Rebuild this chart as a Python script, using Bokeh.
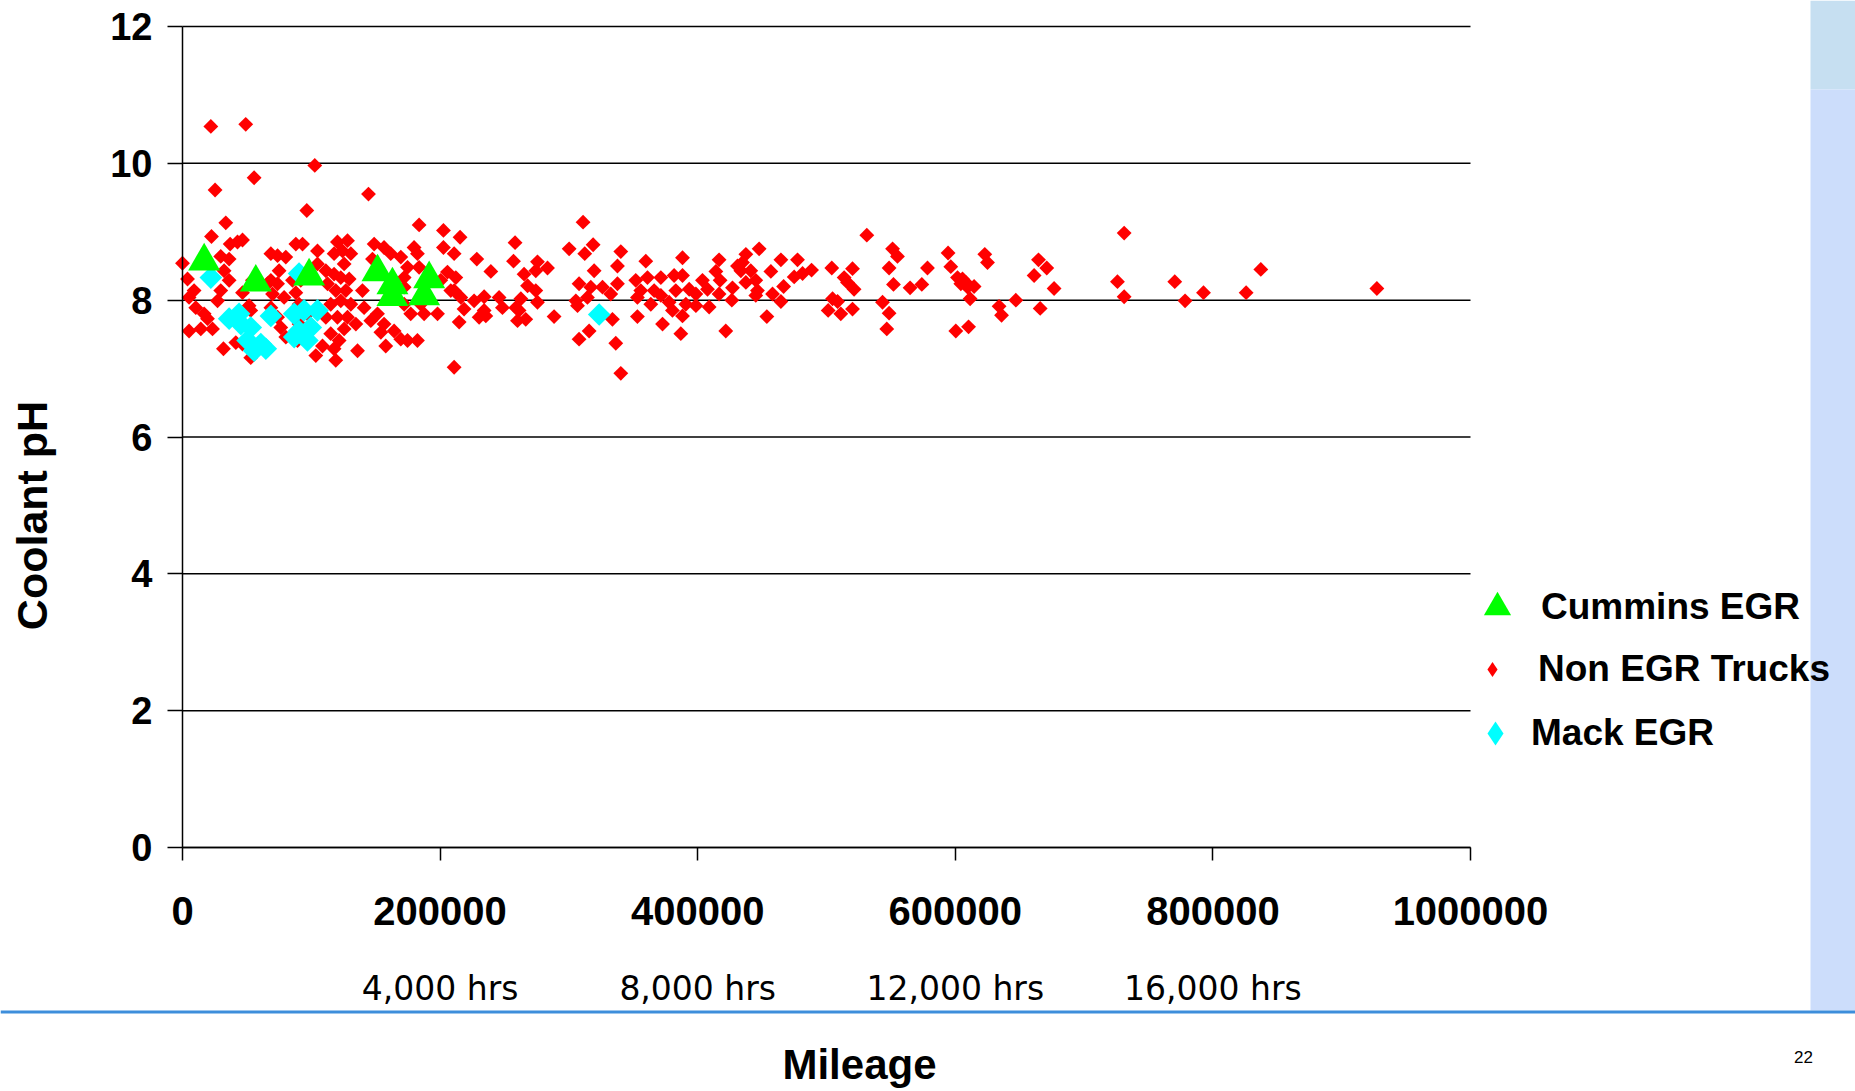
from bokeh.plotting import figure
from bokeh.models import (ColumnDataSource, LinearAxis, FixedTicker, Legend, LegendItem,
                          BoxAnnotation, Label, Range1d, NumeralTickFormatter)
from bokeh.embed import file_html
from bokeh.resources import INLINE

# ---- Coolant pH vs. mileage -------------------------------------------------
# Non EGR trucks (red diamonds)
non_egr_miles = [
    22000, 49100, 102700, 55600, 25300, 96500, 144400, 33600, 183700, 22500,
    37000, 42700, 46600, 0, 3900, 9000, 5100, 10300, 16800, 19400,
    5100, 14200, 23300, 31800, 41400, 29700, 36200, 32300, 36200, 29700,
    27200, 46600, 51700, 54300, 68600, 73800, 80200, 88000, 93200, 68600,
    75000, 66000, 73800, 69900, 78900, 68600, 73800, 76300, 80200, 46600,
    53000, 53000, 85400, 91800, 88000, 90500, 89300, 103500, 119000, 108700,
    117700, 104800, 104800, 111300, 120300, 128100, 124200, 117700, 130700, 125500,
    117700, 122900, 129400, 112600, 119000, 126800, 122900, 130700, 115100, 111300,
    120300, 128100, 134600, 125500, 115100, 135900, 121600, 148800, 156500, 147500,
    161700, 169500, 179800, 182400, 174700, 183700, 172100, 139700, 141000, 146200,
    151400, 156500, 154000, 164300, 157800, 169500, 174700, 182400, 177200, 187600,
    185000, 172100, 172100, 90500, 97000,
    202600, 215500, 202600, 210900, 228500, 239400, 258200, 257000, 275600, 283400,
    274300, 265200, 267900, 274300, 275600, 262700, 258800, 260100, 266500, 245800,
    248400, 234200, 226400, 230300, 235500, 218600, 214800, 210900, 216100, 205700,
    212200, 210900, 288500, 300200, 311000, 312300, 318800, 307900, 319600, 317000,
    314400, 305400, 306700, 326100, 332500, 337700, 337700, 340300, 333800, 315700,
    307900, 336400, 340300, 351900, 355800, 353200, 359700, 361000, 366200, 363600,
    353200, 371400, 371400, 377800, 372700, 200500, 198000, 208300, 261300, 234200,
    388200, 381700, 388200, 383000, 393400, 398600, 390800, 398600, 388200, 380400,
    386900, 403700, 407600, 408900, 416600, 414100, 417400, 416600, 427000, 426500,
    421800, 430900, 433500, 437400, 434800, 441200, 437400, 445100, 447700, 446400,
    445100, 456800, 453700, 458100, 464600, 466700, 464600, 477500, 474900, 481400,
    488400, 504100, 504700, 508600, 501300, 511100, 520200, 513700, 516300, 521400,
    520200, 531300, 551300, 555100, 548600, 552000, 543500, 548600, 546800, 564900,
    574000, 578400, 594400, 596500, 601700, 604300, 608200, 614600, 611500, 600400,
    610300, 622900, 625000, 605600, 609500,
    634000, 635900, 647000, 661200, 664600, 671000, 676700, 665900, 731100, 725900,
    731100, 770400, 778400, 792700, 825800, 837200, 927300,
]
non_egr_ph = [
    10.54, 10.57, 9.97, 9.79, 9.61, 9.31, 9.55, 9.13, 9.10, 8.93,
    8.82, 8.85, 8.88, 8.54, 8.31, 8.14, 8.04, 7.89, 7.80, 7.73,
    7.55, 7.58, 7.58, 7.29, 7.38, 8.64, 8.60, 8.43, 8.29, 8.14,
    7.99, 8.11, 7.92, 8.29, 8.68, 8.65, 8.63, 8.82, 8.82, 8.29,
    8.43, 8.24, 8.24, 8.09, 8.04, 7.89, 7.75, 7.60, 7.46, 7.36,
    7.16, 7.85, 8.29, 8.29, 8.11, 7.94, 7.41, 7.19, 7.12, 7.33,
    7.29, 8.72, 8.53, 8.43, 8.85, 8.87, 8.72, 8.68, 8.68, 8.53,
    8.38, 8.33, 8.31, 8.24, 8.14, 8.14, 7.99, 7.94, 7.94, 7.75,
    7.75, 7.75, 7.65, 7.58, 7.51, 7.26, 7.41, 8.82, 8.77, 8.60,
    8.68, 8.63, 8.77, 8.68, 8.48, 8.48, 8.33, 8.14, 7.89, 7.70,
    7.80, 7.65, 7.53, 7.55, 7.33, 7.43, 7.41, 7.41, 7.80, 7.80,
    7.94, 7.94, 8.19, 7.65, 7.80,
    9.02, 8.92, 8.77, 8.68, 8.60, 8.42, 8.84, 8.57, 8.56, 8.47,
    8.43, 8.38, 8.21, 8.14, 7.97, 8.02, 7.89, 7.70, 7.72, 8.04,
    7.89, 8.05, 7.99, 7.75, 7.77, 7.87, 7.68, 8.14, 8.04, 8.41,
    8.33, 7.02, 7.76, 8.75, 9.14, 8.68, 8.81, 8.24, 8.43, 8.19,
    8.04, 7.99, 7.92, 8.19, 8.09, 8.24, 8.50, 8.71, 7.72, 7.55,
    7.43, 7.37, 6.93, 8.29, 8.14, 8.04, 8.57, 8.33, 8.14, 7.94,
    7.76, 8.33, 8.07, 7.97, 7.65, 8.29, 7.80, 8.14, 7.85, 7.85,
    8.62, 8.36, 8.36, 8.14, 8.16, 8.09, 7.94, 7.92, 7.77, 7.85,
    7.51, 8.29, 8.16, 7.90, 8.59, 8.42, 8.29, 8.09, 8.18, 8.00,
    7.55, 8.50, 8.43, 8.67, 8.55, 8.43, 8.26, 8.29, 8.75, 8.14,
    8.07, 8.42, 7.76, 8.09, 8.59, 8.20, 7.98, 8.59, 8.34, 8.39,
    8.44, 8.47, 8.02, 7.98, 7.85, 7.80, 8.46, 8.33, 8.26, 8.16,
    7.87, 8.95, 8.75, 8.64, 8.47, 8.23, 7.97, 7.81, 7.58, 8.18,
    8.23, 8.47, 8.69, 8.49, 8.33, 8.24, 8.26, 8.20, 8.02, 7.55,
    7.61, 8.67, 8.55, 8.31, 8.19,
    7.91, 7.78, 8.00, 8.36, 8.59, 8.47, 8.17, 7.88, 8.98, 8.27,
    8.05, 8.27, 7.99, 8.11, 8.11, 8.45, 8.17,
]

# Mack EGR (cyan diamonds)
mack_miles = [22000, 90500, 36200, 45300, 53000, 43900, 50500, 60800, 55600, 64700,
              68600, 86700, 94400, 104800, 90500, 97000, 86700, 99600, 323500]
mack_ph = [8.33, 8.39, 7.73, 7.65, 7.60, 7.80, 7.41, 7.36, 7.26, 7.29,
           7.77, 7.80, 7.85, 7.85, 7.55, 7.41, 7.46, 7.60, 7.79]

# Cummins EGR (green triangles)
cummins_miles = [16800, 56900, 98300, 151400, 163000, 163000, 191500, 187600]
cummins_ph = [8.57, 8.26, 8.35, 8.41, 8.22, 8.05, 8.31, 8.06]

mile_ticks = [0, 200000, 400000, 600000, 800000, 1000000]
ph_ticks = [0, 2, 4, 6, 8, 10, 12]
hrs_ticks = [200000, 400000, 600000, 800000]
hrs_labels = ["4,000 hrs", "8,000 hrs", "12,000 hrs", "16,000 hrs"]

# ---- page geometry (pixels) --------------------------------------------------
W, H = 1855, 1091
AX_LEFT, AX_RIGHT = 182, 1470      # where mileage 0 and 1,000,000 sit
AX_TOP, AX_BOTTOM = 26, 847        # where pH 12 and 0 sit

x_lo, x_hi = mile_ticks[0], mile_ticks[-1]
y_lo, y_hi = ph_ticks[0], ph_ticks[-1]
px_x = (AX_RIGHT - AX_LEFT) / (x_hi - x_lo)
px_y = (AX_BOTTOM - AX_TOP) / (y_hi - y_lo)

# the frame fills the whole page; axes are pinned at the data origin
p = figure(width=W, height=H,
           x_range=Range1d(x_lo - AX_LEFT / px_x, x_hi + (W - AX_RIGHT) / px_x),
           y_range=Range1d(y_lo - (H - AX_BOTTOM) / px_y, y_hi + AX_TOP / px_y),
           min_border=0, output_backend="svg", toolbar_location=None,
           outline_line_color=None, background_fill_color="white",
           border_fill_color="white")
p.title.visible = False
p.grid.visible = False

BOLD = "Liberation Sans"

# ---- slide decoration: right band and blue rule -------------------------------
def canvas_box(left, right, top, bottom, color):
    return BoxAnnotation(left=left, right=right, top=top, bottom=bottom,
                         left_units="canvas", right_units="canvas",
                         top_units="canvas", bottom_units="canvas",
                         fill_color=color, fill_alpha=1, line_color=None,
                         level="underlay")

p.add_layout(canvas_box(1810, W, 0, 89, "#C6DFF1"))
p.add_layout(canvas_box(1810, W, 89, 1010, "#CCDDFB"))
p.add_layout(canvas_box(0, W, 1010, 1013, "#3D8EDB"))

# ---- horizontal grid lines across the mileage span ---------------------------
p.segment(x0=[x_lo] * len(ph_ticks), x1=[x_hi] * len(ph_ticks),
          y0=ph_ticks, y1=ph_ticks, line_color="black", line_width=1.5)

# ---- axes ----------------------------------------------------------------
xa = p.xaxis[0]
xa.fixed_location = 0
xa.bounds = (x_lo, x_hi)
xa.ticker = FixedTicker(ticks=mile_ticks)
xa.formatter = NumeralTickFormatter(format="0")
xa.axis_line_color = "black"
xa.axis_line_width = 1.5
xa.major_tick_line_color = "black"
xa.major_tick_line_width = 1.5
xa.major_tick_out = 13
xa.major_tick_in = 0
xa.minor_tick_line_color = None
xa.major_label_text_font = BOLD
xa.major_label_text_font_style = "bold"
xa.major_label_text_font_size = "40px"
xa.major_label_text_color = "black"
xa.major_label_standoff = 36

ya = p.yaxis[0]
ya.fixed_location = 0
ya.bounds = (y_lo, y_hi)
ya.ticker = FixedTicker(ticks=ph_ticks)
ya.axis_line_color = "black"
ya.axis_line_width = 1.5
ya.major_tick_line_color = "black"
ya.major_tick_line_width = 1.5
ya.major_tick_out = 15
ya.major_tick_in = 0
ya.minor_tick_line_color = None
ya.major_label_text_font = BOLD
ya.major_label_text_font_style = "bold"
ya.major_label_text_font_size = "38px"
ya.major_label_text_color = "black"
ya.major_label_standoff = 15

# y title sits a little below the middle of the pH span
ytitle_axis = LinearAxis(
    fixed_location=0, bounds=(-2.3, y_hi), ticker=FixedTicker(ticks=[]),
    axis_line_color=None, major_tick_line_color=None, minor_tick_line_color=None,
    major_tick_out=0, major_tick_in=0,
    axis_label="Coolant pH", axis_label_text_font=BOLD,
    axis_label_text_font_style="bold", axis_label_text_font_size="43px",
    axis_label_text_color="black", axis_label_standoff=127,
)
p.add_layout(ytitle_axis, "left")

# engine-hour equivalents under the mileage labels, plus the x title
hrs_axis = LinearAxis(
    fixed_location=0, bounds=(x_lo, 1_051_000),
    ticker=FixedTicker(ticks=hrs_ticks),
    major_label_overrides={t: lab for t, lab in zip(hrs_ticks, hrs_labels)},
    axis_line_color=None, major_tick_line_color=None, minor_tick_line_color=None,
    major_tick_out=0, major_tick_in=0,
    major_label_standoff=121,
    major_label_text_font="DejaVu Sans", major_label_text_font_size="33px",
    major_label_text_color="black",
    axis_label="Mileage", axis_label_text_font=BOLD,
    axis_label_text_font_style="bold", axis_label_text_font_size="42px",
    axis_label_text_color="black", axis_label_standoff=30,
)
p.add_layout(hrs_axis, "below")

# ---- markers ---------------------------------------------------------------
src_red = ColumnDataSource(dict(x=non_egr_miles, y=non_egr_ph))
src_cyan = ColumnDataSource(dict(x=mack_miles, y=mack_ph))
src_green = ColumnDataSource(dict(x=cummins_miles, y=cummins_ph))

r_red = p.scatter("x", "y", source=src_red, marker="square", angle=0.785398,
                  size=10.5, fill_color="#FF0000", line_color=None)
r_cyan = p.scatter("x", "y", source=src_cyan, marker="square", angle=0.785398,
                   size=16, fill_color="#00FFFF", line_color=None)
r_green = p.scatter("x", "y", source=src_green, marker="triangle",
                    size=32, fill_color="#00FF00", line_color=None)

# legend keys: legend glyphs are never rotated, so the diamond series get
# zero-size diamond-marker twins whose only job is to supply the legend key
key_red = p.scatter("x", "y", source=src_red, marker="diamond", size=0,
                    fill_color="#FF0000", line_color=None)
key_cyan = p.scatter("x", "y", source=src_cyan, marker="diamond", size=0,
                     fill_color="#00FFFF", line_color=None)

# ---- page number -------------------------------------------------------------
p.add_layout(Label(x=1803, y=1056, x_units="canvas", y_units="canvas", text="22",
                   text_align="center", text_baseline="middle",
                   text_font="Liberation Sans", text_font_size="17px",
                   text_color="black"))

# ---- legend (one box per entry) --------------------------------------------
def legend_box(label, renderer, gw, gh, standoff, loc):
    lg = Legend(items=[LegendItem(label=label, renderers=[renderer])],
                location=loc, orientation="vertical",
                glyph_width=gw, glyph_height=gh, label_height=gh,
                label_standoff=standoff, padding=0, margin=0, spacing=0,
                border_line_color=None, background_fill_alpha=0,
                label_text_font=BOLD, label_text_font_style="bold",
                label_text_font_size="37px", label_text_color="black")
    p.add_layout(lg, "center")

legend_box("Cummins EGR", r_green, 68, 68, 10, (1463, 450))
legend_box("Non EGR Trucks", key_red, 38, 44, 27, (1473, 400))
legend_box("Mack EGR", key_cyan, 60, 60, 6, (1465, 328))

open("out.html", "w").write(file_html(p, INLINE))
